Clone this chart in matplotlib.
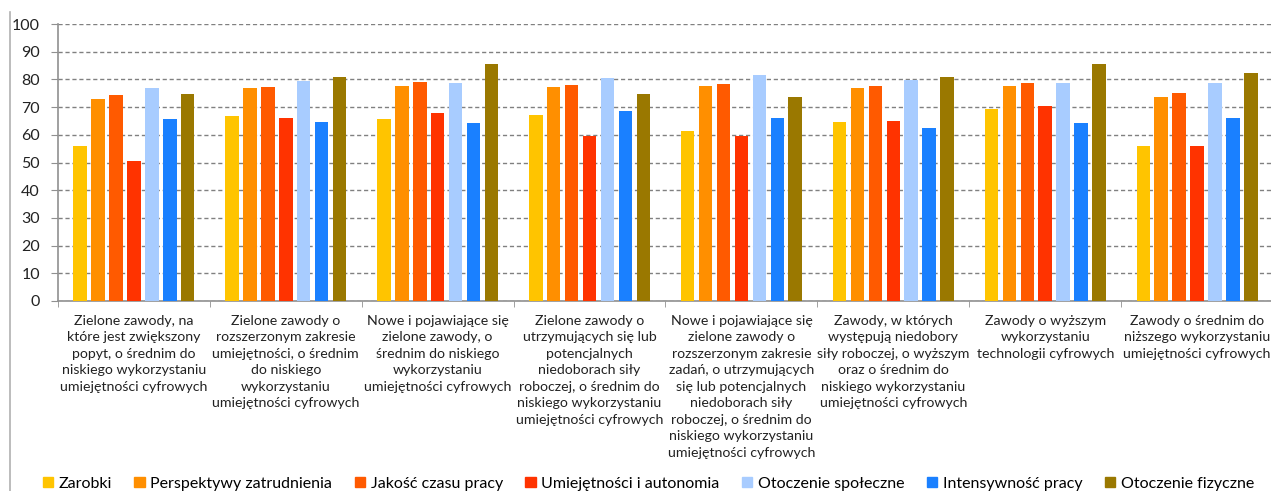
import matplotlib.pyplot as plt
import numpy as np
from matplotlib.lines import Line2D

plt.rcParams['font.family'] = ['Lato', 'DejaVu Sans']

# group labels (already wrapped as in the source)
categories = [
    "Zielone zawody, na\nktóre jest zwiększony\npopyt, o średnim do\nniskiego wykorzystaniu\numiejętności cyfrowych",
    "Zielone zawody o\nrozszerzonym zakresie\numiejętności, o średnim\ndo niskiego\nwykorzystaniu\numiejętności cyfrowych",
    "Nowe i pojawiające się\nzielone zawody, o\nśrednim do niskiego\nwykorzystaniu\numiejętności cyfrowych",
    "Zielone zawody o\nutrzymujących się lub\npotencjalnych\nniedoborach siły\nroboczej, o średnim do\nniskiego wykorzystaniu\numiejętności cyfrowych",
    "Nowe i pojawiające się\nzielone zawody o\nrozszerzonym zakresie\nzadań, o utrzymujących\nsię lub potencjalnych\nniedoborach siły\nroboczej, o średnim do\nniskiego wykorzystaniu\numiejętności cyfrowych",
    "Zawody, w których\nwystępują niedobory\nsiły roboczej, o wyższym\noraz o średnim do\nniskiego wykorzystaniu\numiejętności cyfrowych",
    "Zawody o wyższym\nwykorzystaniu\ntechnologii cyfrowych",
    "Zawody o średnim do\nniższego wykorzystaniu\numiejętności cyfrowych",
]

series_names = ["Zarobki", "Perspektywy zatrudnienia", "Jakość czasu pracy",
                "Umiejętności i autonomia", "Otoczenie społeczne",
                "Intensywność pracy", "Otoczenie fizyczne"]

zarobki       = [56.0, 66.7, 65.7, 67.0, 61.3, 64.5, 69.3, 56.0]
perspektywy   = [72.8, 77.0, 77.7, 77.4, 77.7, 77.0, 77.7, 73.5]
jakosc        = [74.3, 77.3, 79.1, 77.9, 78.2, 77.5, 78.8, 75.0]
umiejetnosci  = [50.4, 66.2, 67.8, 59.7, 59.6, 65.1, 70.5, 56.0]
spoleczne     = [77.0, 79.4, 78.8, 80.4, 81.5, 79.9, 78.8, 78.6]
intensywnosc  = [65.7, 64.6, 64.3, 68.6, 66.1, 62.3, 64.1, 66.1]
fizyczne      = [74.6, 80.8, 85.7, 74.7, 73.8, 80.8, 85.4, 82.3]

data = [zarobki, perspektywy, jakosc, umiejetnosci, spoleczne, intensywnosc, fizyczne]
colors = ["#FFC400", "#FF8F00", "#FF5A00", "#FF3300", "#A8CCFF", "#1A80FF", "#9A7800"]

fig = plt.figure(figsize=(12.71, 4.91), dpi=100)
ax = fig.add_axes([0.0456, 0.387, 0.956, 0.564])

n = len(categories)
x = np.arange(n) + 0.5
pitch = 0.118
width = 0.089
for i, (vals, col) in enumerate(zip(data, colors)):
    ax.bar(x + (i - 3) * pitch, vals, width=width, color=col, zorder=3)

ax.set_xlim(0, n)
ax.set_ylim(0, 100)
ax.set_yticks(range(0, 101, 10))
ax.yaxis.grid(True, linestyle=(0, (3, 2)), color='#808080', linewidth=1.0, zorder=0)
ax.tick_params(axis='y', labelsize=11.5, length=5, color='#909090', pad=8, labelcolor='#222222')

ax.set_xticks(x)
ax.set_xticklabels(categories, fontsize=10.2, linespacing=1.45, color='#222222')
ax.tick_params(axis='x', which='major', length=0, pad=10)
ax.set_xticks(np.arange(n + 1), minor=True)
ax.tick_params(axis='x', which='minor', length=4, color='#909090')

for s in ['top', 'right']:
    ax.spines[s].set_visible(False)
for s in ['left', 'bottom']:
    ax.spines[s].set_color('#909090')
    ax.spines[s].set_linewidth(1.2)

# thin frame line at the left edge of the picture
fig.add_artist(Line2D([0.008, 0.008], [0.0, 0.976], color='#b0b0b0', linewidth=1.2))

handles = [plt.Rectangle((0, 0), 1, 1, color=c) for c in colors]
fig.legend(handles, series_names, loc='center', bbox_to_anchor=(0.51, 0.015), ncol=7,
           frameon=False, fontsize=11.5, handlelength=0.65, handleheight=0.65,
           handletextpad=0.35, columnspacing=1.4, borderaxespad=0)

fig.savefig('out.png', dpi=100)
